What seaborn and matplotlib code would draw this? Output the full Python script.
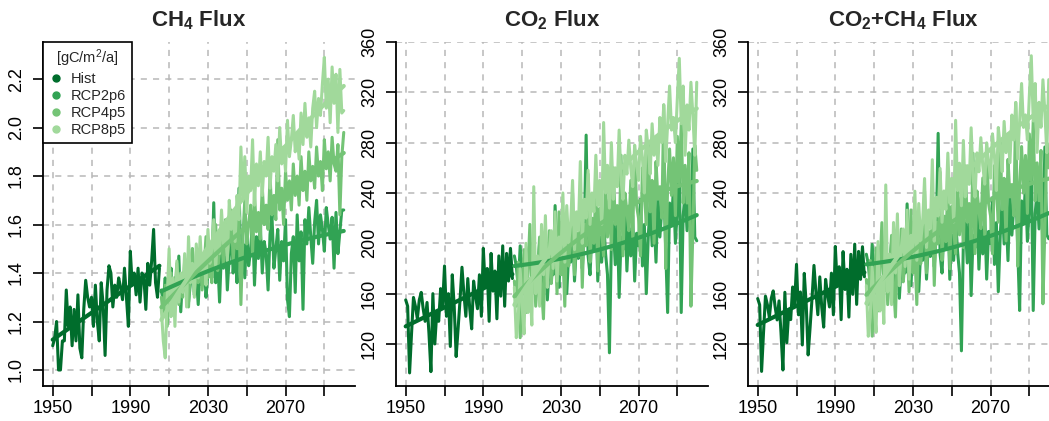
import numpy as np
import pandas as pd
import matplotlib
matplotlib.use("Agg")
import matplotlib.pyplot as plt
from matplotlib.lines import Line2D
import seaborn as sns

# years
years_hist = list(range(1950, 2006))
years_rcp = list(range(2006, 2101))

# CH4 flux [gC/m2/a]
ch4_hist = [1.10, 1.13, 1.20, 1.00, 1.00, 1.12, 1.12, 1.33, 1.18, 1.26,
            1.10, 1.25, 1.12, 1.31, 1.09, 1.05, 1.25, 1.37, 1.30, 1.26,
            1.30, 1.18, 1.35, 1.20, 1.12, 1.36, 1.27, 1.06, 1.33, 1.43,
            1.40, 1.26, 1.35, 1.30, 1.38, 1.34, 1.29, 1.42, 1.30, 1.18,
            1.49, 1.35, 1.40, 1.31, 1.42, 1.28, 1.40, 1.38, 1.25, 1.44,
            1.35, 1.45, 1.58, 1.36, 1.30, 1.42]
ch4_rcp26 = [1.33, 1.28, 1.38, 1.20, 1.35, 1.42, 1.25, 1.38, 1.30, 1.47,
             1.24, 1.40, 1.33, 1.45, 1.28, 1.36, 1.50, 1.31, 1.39, 1.27,
             1.44, 1.35, 1.48, 1.30, 1.40, 1.52, 1.38, 1.69, 1.36, 1.46,
             1.28, 1.50, 1.42, 1.55, 1.33, 1.47, 1.60, 1.40, 1.51, 1.36,
             1.75, 1.45, 1.52, 1.38, 1.58, 1.43, 1.49, 1.62, 1.35, 1.55,
             1.46, 1.60, 1.40, 1.53, 1.48, 1.33, 1.56, 1.64, 1.42, 1.50,
             1.58, 1.37, 1.53, 1.45, 1.62, 1.29, 1.22, 1.48, 1.55, 1.32,
             1.64, 1.45, 1.57, 1.25, 1.62, 1.52, 1.67, 1.55, 1.44, 1.61,
             1.70, 1.52, 1.64, 1.58, 1.49, 1.67, 1.60, 1.54, 1.63, 1.42,
             1.65, 1.48, 1.57, 1.66, 1.66]
ch4_rcp45 = [1.30, 1.22, 1.35, 1.18, 1.28, 1.40, 1.25, 1.33, 1.44, 1.27,
             1.38, 1.30, 1.45, 1.34, 1.26, 1.42, 1.50, 1.32, 1.40, 1.36,
             1.47, 1.33, 1.42, 1.55, 1.38, 1.45, 1.36, 1.52, 1.60, 1.41,
             1.49, 1.56, 1.43, 1.62, 1.47, 1.53, 1.66, 1.45, 1.58, 1.50,
             1.63, 1.27, 1.55, 1.70, 1.52, 1.60, 1.68, 1.48, 1.73, 1.57,
             1.65, 1.54, 1.76, 1.60, 1.68, 1.58, 1.80, 1.64, 1.72, 1.62,
             1.95, 1.66, 1.75, 1.60, 1.82, 1.70, 1.78, 1.66, 1.85, 1.72,
             1.80, 1.68, 1.88, 1.74, 1.82, 1.70, 1.90, 1.78, 1.84, 1.75,
             1.92, 1.80, 1.86, 1.74, 1.95, 1.83, 1.90, 1.78, 1.96, 1.85,
             1.82, 1.93, 1.64, 1.88, 1.98]
ch4_rcp85 = [1.25, 1.12, 1.05, 1.30, 1.50, 1.22, 1.38, 1.18, 1.45, 1.28,
             1.40, 1.32, 1.48, 1.26, 1.55, 1.36, 1.44, 1.30, 1.52, 1.38,
             1.55, 1.40, 1.48, 1.35, 1.58, 1.44, 1.50, 1.62, 1.42, 1.56,
             1.48, 1.66, 1.52, 1.60, 1.45, 1.70, 1.58, 1.65, 1.53, 1.72,
             1.62, 1.92, 1.70, 1.88, 1.65, 1.80, 1.74, 1.95, 1.68, 1.85,
             1.76, 1.90, 1.72, 1.86, 1.80, 1.96, 1.75, 1.88, 1.82, 1.93,
             1.78, 2.00, 1.85, 1.92, 1.82, 2.03, 1.88, 1.95, 2.05, 1.90,
             1.98, 1.87, 2.06, 1.93, 2.10, 1.96, 2.04, 1.92, 2.08, 2.15,
             2.00, 2.12, 2.05, 2.18, 2.29, 2.08, 2.20, 2.02, 2.25, 2.10,
             2.22, 1.98, 2.24, 2.06, 2.07]

# CO2 flux [gC/m2/a]
co2_hist = [155, 150, 97, 128, 157, 150, 140, 155, 161, 148,
            138, 153, 128, 98, 160, 120, 145, 138, 164, 150,
            182, 142, 160, 118, 175, 150, 110, 132, 155, 181,
            160, 142, 172, 148, 132, 170, 158, 148, 175, 142,
            196, 165, 180, 138, 192, 162, 178, 140, 190, 158,
            198, 150, 192, 170, 196, 172]
co2_rcp26 = [190, 182, 165, 198, 172, 186, 175, 192, 200, 180,
             188, 158, 180, 200, 172, 168, 190, 155, 182, 198,
             175, 230, 185, 165, 200, 178, 210, 160, 192, 185,
             215, 170, 200, 188, 225, 180, 205, 286, 190, 175,
             210, 195, 228, 170, 205, 185, 218, 192, 175, 113,
             200, 215, 183, 225, 157, 205, 195, 230, 178, 212,
             190, 222, 170, 208, 198, 235, 182, 215, 160, 205,
             232, 198, 222, 185, 238, 205, 228, 248, 195, 145,
             232, 215, 245, 200, 228, 262, 145, 222, 240, 210,
             250, 195, 275, 205, 202]
co2_rcp45 = [170, 150, 185, 125, 160, 195, 145, 178, 215, 160,
             190, 150, 175, 205, 165, 140, 195, 180, 210, 168,
             185, 200, 160, 225, 175, 192, 150, 215, 182, 200,
             240, 175, 208, 190, 230, 165, 215, 198, 255, 185,
             220, 200, 245, 178, 228, 210, 190, 250, 205, 235,
             195, 260, 215, 230, 200, 270, 190, 240, 225, 210,
             250, 205, 275, 230, 220, 190, 260, 240, 215, 280,
             225, 250, 200, 265, 235, 245, 220, 310, 180, 245,
             275, 238, 268, 222, 285, 248, 295, 232, 262, 232,
             272, 150, 210, 278, 258]
co2_rcp85 = [165, 125, 140, 180, 150, 128, 200, 145, 172, 135,
             245, 160, 190, 150, 215, 175, 222, 165, 195, 210,
             180, 225, 170, 205, 190, 240, 185, 230, 200, 215,
             250, 195, 225, 210, 265, 200, 235, 220, 258, 215,
             240, 225, 270, 230, 250, 215, 296, 240, 262, 228,
             280, 235, 260, 245, 290, 250, 235, 270, 255, 282,
             260, 245, 278, 262, 250, 285, 268, 240, 290, 275,
             255, 295, 270, 285, 262, 300, 280, 310, 265, 295,
             325, 290, 300, 280, 315, 347, 295, 325, 270, 310,
             290, 328, 302, 270, 328]

scenarios = ["Hist", "RCP2p6", "RCP4p5", "RCP8p5"]
colors = ["#006d2c", "#31a354", "#74c476", "#a1d99b"]

# CO2+CH4 is the sum of both fluxes
tot_hist = list(np.add(co2_hist, ch4_hist))
tot_rcp26 = list(np.add(co2_rcp26, ch4_rcp26))
tot_rcp45 = list(np.add(co2_rcp45, ch4_rcp45))
tot_rcp85 = list(np.add(co2_rcp85, ch4_rcp85))

panels = [
    ("CH$_4$ Flux", [ch4_hist, ch4_rcp26, ch4_rcp45, ch4_rcp85],
     (0.934, 2.353), np.arange(1.0, 2.21, 0.2), "{:.1f}"),
    ("CO$_2$ Flux", [co2_hist, co2_rcp26, co2_rcp45, co2_rcp85],
     (86.6, 360), np.arange(120, 361, 40), "{:.0f}"),
    ("CO$_2$+CH$_4$ Flux", [tot_hist, tot_rcp26, tot_rcp45, tot_rcp85],
     (86.6, 360), np.arange(120, 361, 40), "{:.0f}"),
]

sns.set_theme(style="white")
plt.rcParams["font.family"] = ["Liberation Sans", "DejaVu Sans"]
plt.rcParams["mathtext.default"] = "regular"

W, H = 1049, 421
fig = plt.figure(figsize=(W / 100, H / 100), dpi=100)

lefts = [43, 396, 748]
xticks = list(range(1950, 2101, 20))
xlabels = [str(y) if y in (1950, 1990, 2030, 2070) else "" for y in xticks]

for left, (title, series, ylim, yticks, fmt) in zip(lefts, panels):
    ax = fig.add_axes([left / W, 35 / H, 312 / W, 344 / H])
    ax.set_axisbelow(True)

    # raw yearly series
    for i, vals in enumerate(series):
        yrs = years_hist if i == 0 else years_rcp
        sns.lineplot(x=yrs, y=vals, color=colors[i], lw=2.2, ax=ax)

    # fitted trends on top
    for i, vals in enumerate(series):
        yrs = years_hist if i == 0 else years_rcp
        sns.regplot(x=np.array(yrs), y=np.array(vals), order=1 if i == 0 else 2,
                    scatter=False, ci=None, truncate=True, ax=ax,
                    line_kws=dict(color=colors[i], lw=3.0))

    ax.set_xlim(1945, 2105.8)
    ax.set_ylim(*ylim)
    ax.set_xticks(xticks)
    ax.set_xticklabels(xlabels)
    ax.set_yticks(yticks)
    ax.set_yticklabels([fmt.format(v) for v in yticks], rotation=90, va="center")
    ax.set_xlabel("")
    ax.set_ylabel("")
    ax.grid(True, ls=(0, (4, 4)), color="#b8b8b8", lw=1.1)
    ax.tick_params(direction="out", length=7, width=1.2, labelsize=13,
                   color="black", labelcolor="black", left=True, bottom=True)
    ax.tick_params(axis="x", pad=3)
    ax.tick_params(axis="y", pad=6)
    sns.despine(ax=ax)
    for s in ("left", "bottom"):
        ax.spines[s].set_color("black")
        ax.spines[s].set_linewidth(1.3)
    ax.set_title(title, fontsize=16, fontweight="bold", pad=11)

    if left == lefts[0]:
        handles = [Line2D([], [], ls="", marker="o", ms=5, color=c) for c in colors]
        leg = ax.legend(handles, scenarios, title="[gC/m$^2$/a]", loc="upper left",
                        bbox_to_anchor=(0, 1), borderaxespad=0, fontsize=10.5,
                        title_fontsize=10.5, frameon=True, fancybox=False,
                        framealpha=1, edgecolor="black", handlelength=1.0,
                        handletextpad=0.5, labelspacing=0.2, borderpad=0.4)
        leg.get_frame().set_linewidth(1.2)

fig.savefig("out.png", dpi=100)
